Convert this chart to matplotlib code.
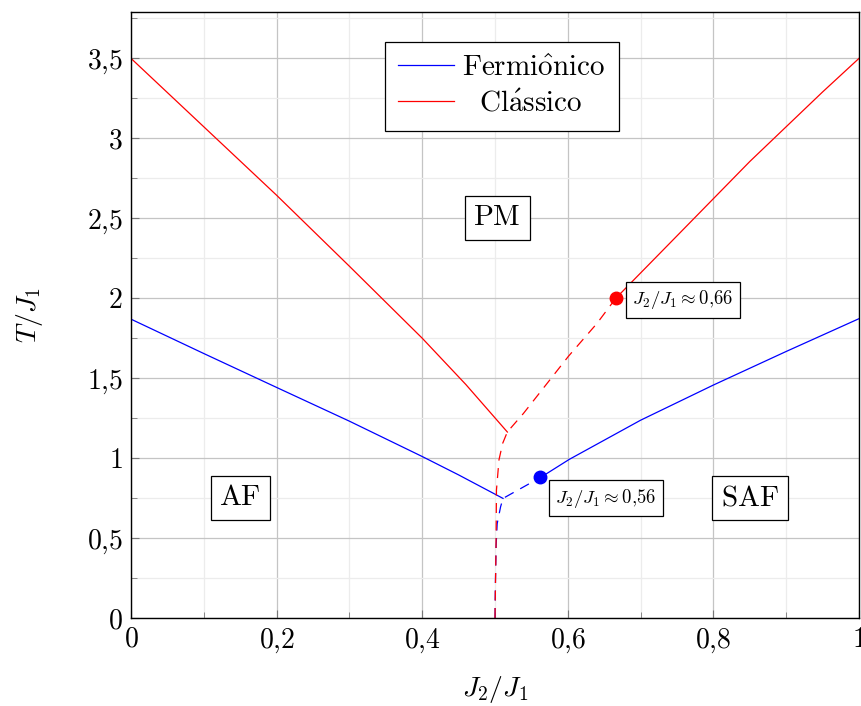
import numpy as np
import matplotlib
matplotlib.use("Agg")
import matplotlib.pyplot as plt
from matplotlib.ticker import MultipleLocator, FuncFormatter

plt.rcParams["mathtext.fontset"] = "cm"
plt.rcParams["font.family"] = "serif"
plt.rcParams["font.serif"] = ["cmr10", "DejaVu Serif"]
plt.rcParams["axes.unicode_minus"] = False

# --- fermionic (blue) phase boundaries ---
ferm_af_x = [0.0, 0.1, 0.2, 0.3, 0.4, 0.45, 0.511]
ferm_af_y = [1.869, 1.654, 1.442, 1.231, 1.01, 0.895, 0.748]
ferm_dash_x = [0.500, 0.5005, 0.5015, 0.503, 0.5077, 0.511, 0.564]
ferm_dash_y = [0.0, 0.2, 0.45, 0.59, 0.696, 0.748, 0.883]
ferm_saf_x = [0.564, 0.602, 0.70, 0.80, 0.90, 1.0]
ferm_saf_y = [0.883, 0.992, 1.237, 1.457, 1.667, 1.872]
ferm_pt = (0.562, 0.883)

# --- classical (red) phase boundaries ---
clas_af_x = [0.0, 0.2, 0.3, 0.4, 0.46, 0.517]
clas_af_y = [3.5, 2.644, 2.2, 1.75, 1.46, 1.163]
clas_dash_x = [0.500, 0.5014, 0.502, 0.5055, 0.5105, 0.517, 0.539, 0.601, 0.640, 0.666]
clas_dash_y = [0.0, 0.446, 0.8, 0.99, 1.092, 1.164, 1.279, 1.6375, 1.842, 2.0]
clas_saf_x = [0.666, 0.75, 0.85, 0.95, 1.0]
clas_saf_y = [2.0, 2.39, 2.855, 3.29, 3.5]
clas_pt = (0.666, 2.0)

fig = plt.figure(figsize=(8.61, 7.06), dpi=100)
ax = fig.add_axes([131 / 861, 88 / 706, 728 / 861, 606 / 706])

lw = 0.9
dash = (8, 6)
ax.plot(ferm_af_x, ferm_af_y, color="blue", lw=lw, label=r"$\mathrm{Fermi\hat{o}nico}$")
ax.plot(ferm_saf_x, ferm_saf_y, color="blue", lw=lw)
ax.plot(ferm_dash_x, ferm_dash_y, color="blue", lw=lw, dashes=dash)
ax.plot(clas_af_x, clas_af_y, color="red", lw=lw,
        label=r"$\enspace\,\mathrm{Cl\acute{a}ssico}$")
ax.plot(clas_saf_x, clas_saf_y, color="red", lw=lw)
ax.plot(clas_dash_x, clas_dash_y, color="red", lw=lw, dashes=dash)
ax.plot(*ferm_pt, "o", color="blue", ms=9, zorder=5)
ax.plot(*clas_pt, "o", color="red", ms=9, zorder=5)

box = dict(boxstyle="square,pad=0.3", fc="white", ec="black", lw=0.9)
sbox = dict(boxstyle="square,pad=0.35", fc="white", ec="black", lw=0.9)
ax.text(0.503, 2.5, r"$\mathrm{PM}$", fontsize=21, ha="center", va="center", bbox=box)
ax.text(0.15, 0.75, r"$\mathrm{AF}$", fontsize=21, ha="center", va="center", bbox=box)
ax.text(0.85, 0.75, r"$\mathrm{SAF}$", fontsize=21, ha="center", va="center", bbox=box)
ax.text(0.758, 1.99, r"$J_2/J_1 \approx 0{,}66$", fontsize=13.5, ha="center",
        va="center", bbox=sbox)
ax.text(0.6525, 0.75, r"$J_2/J_1 \approx 0{,}56$", fontsize=13.5, ha="center",
        va="center", bbox=sbox)

ax.set_xlim(0, 1)
ax.set_ylim(0, 3.79)
ax.xaxis.set_major_locator(MultipleLocator(0.2))
ax.xaxis.set_minor_locator(MultipleLocator(0.1))
ax.yaxis.set_major_locator(MultipleLocator(0.5))
ax.yaxis.set_minor_locator(MultipleLocator(0.25))
fmt = FuncFormatter(lambda v, p: "$" + f"{v:g}".replace(".", "{,}") + "$")
ax.xaxis.set_major_formatter(fmt)
ax.yaxis.set_major_formatter(fmt)
ax.tick_params(which="both", direction="in", colors="#777777", labelcolor="black",
               labelsize=20)
ax.tick_params(which="major", length=6, width=0.8, pad=6)
ax.tick_params(which="minor", length=4, width=0.6)
ax.grid(which="major", color="#c4c4c4", lw=0.9)
ax.grid(which="minor", color="#ececec", lw=0.9)
ax.set_axisbelow(True)
for s in ax.spines.values():
    s.set_linewidth(1.0)
    s.set_color("black")

ax.set_xlabel(r"$J_2/J_1$", fontsize=20, labelpad=14)
ax.set_ylabel(r"$T/J_1$", fontsize=20, labelpad=30)

leg = ax.legend(loc="upper center", bbox_to_anchor=(0.5096, 0.9505), fontsize=21,
                frameon=True, fancybox=False, edgecolor="black", framealpha=1,
                borderpad=0.45, labelspacing=0.3, handlelength=1.9, handletextpad=0.3,
                borderaxespad=0)
leg.get_frame().set_linewidth(0.9)

fig.savefig("out.png", dpi=100)
